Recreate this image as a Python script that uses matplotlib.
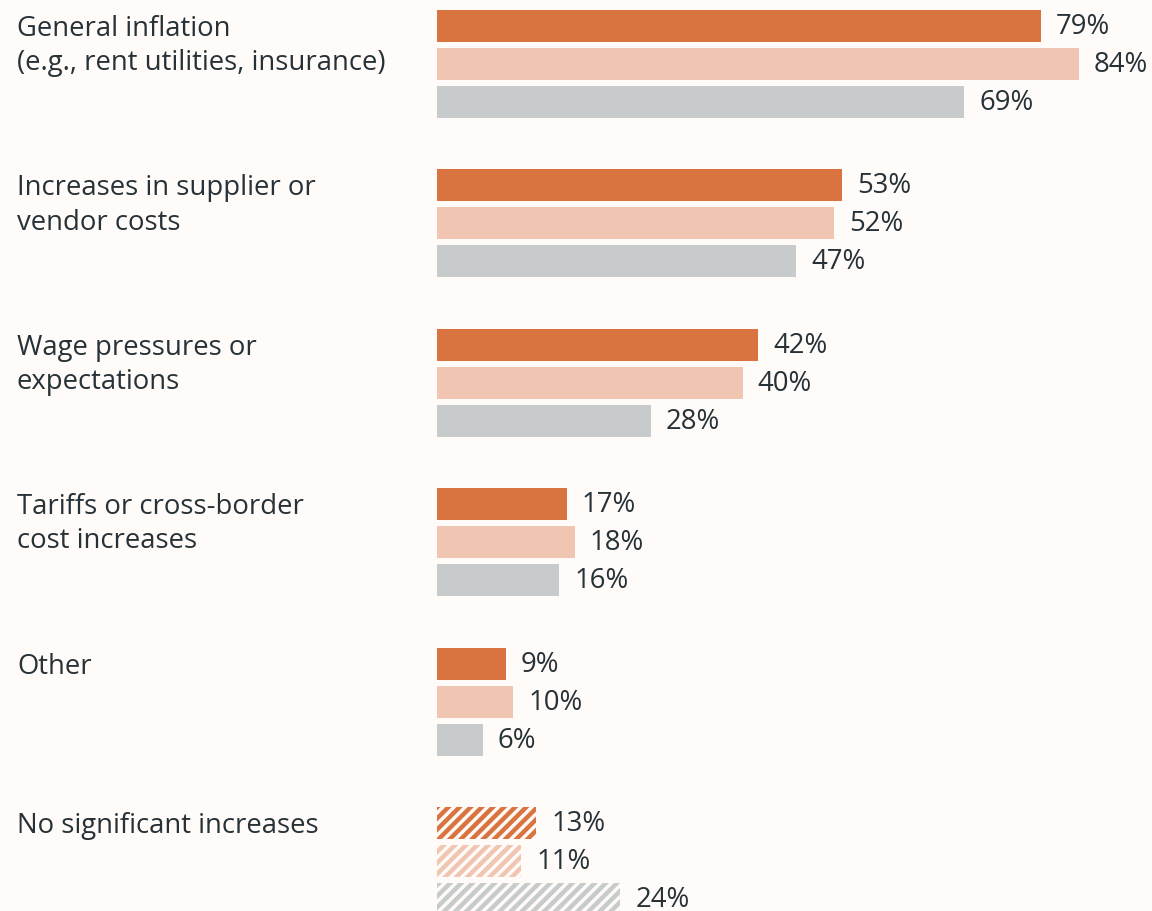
import matplotlib.pyplot as plt
import numpy as np

plt.rcParams['font.family'] = ['Open Sans', 'DejaVu Sans']
plt.rcParams['hatch.linewidth'] = 3.2

categories = ["General inflation\n(e.g., rent utilities, insurance)",
              "Increases in supplier or\nvendor costs",
              "Wage pressures or\nexpectations",
              "Tariffs or cross-border\ncost increases",
              "Other",
              "No significant increases"]
series1 = [79, 53, 42, 17, 9, 13]
series2 = [84, 52, 40, 18, 10, 11]
series3 = [69, 47, 28, 16, 6, 24]
hatched = [False, False, False, False, False, True]

colors = ['#D9733F', '#F0C5B2', '#C8CBCB']
bg = '#FFFBF8'
txt = '#263238'

W, H = 1152, 911
fig = plt.figure(figsize=(W / 100, H / 100), dpi=100)
fig.patch.set_facecolor(bg)
ax = fig.add_axes([0, 0, 1, 1])
ax.set_facecolor(bg)

# pixel-based layout
x0 = 437
pxPerPct = 7.64
groupPitch = 159.4
barPitch = 38
barH = 32
top = 10

ax.set_xlim(-x0 / pxPerPct, (W - x0) / pxPerPct)
ax.set_ylim(H, 0)
ax.axis('off')

allSeries = [series1, series2, series3]
for g, cat in enumerate(categories):
    gTop = top + g * groupPitch
    ax.text(-x0 / pxPerPct + 17 / pxPerPct, gTop + 5, cat, ha='left', va='top',
            fontsize=19.8, color=txt, linespacing=1.3)
    for s, vals in enumerate(allSeries):
        yc = gTop + barH / 2 + s * barPitch
        v = vals[g]
        if hatched[g]:
            ax.barh(yc, v, height=barH, left=0, facecolor=bg, edgecolor=colors[s],
                    linewidth=0, hatch='///')
        else:
            ax.barh(yc, v, height=barH, left=0, color=colors[s], linewidth=0)
        ax.text(v + 15 / pxPerPct, yc + 1, f"{v}%", ha='left', va='center',
                fontsize=19.8, color=txt)

fig.savefig('out.png', dpi=100, facecolor=bg)
